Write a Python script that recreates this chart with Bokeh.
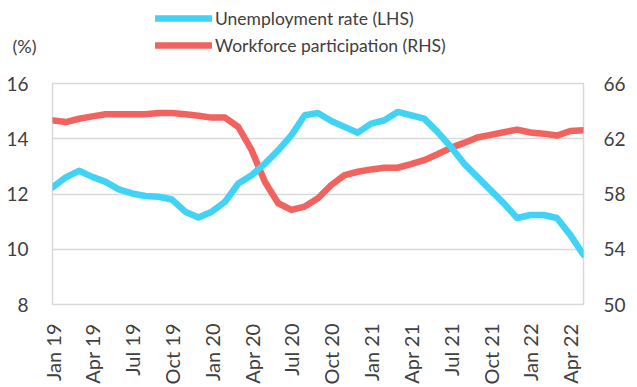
import math
from bokeh.plotting import figure
from bokeh.layouts import column, row
from bokeh.models import (LinearAxis, Range1d, FixedTicker, Legend, LegendItem, Label)
from bokeh.embed import file_html
from bokeh.resources import INLINE

months = ["Jan 19", "Feb 19", "Mar 19", "Apr 19", "May 19", "Jun 19", "Jul 19", "Aug 19", "Sep 19",
          "Oct 19", "Nov 19", "Dec 19", "Jan 20", "Feb 20", "Mar 20", "Apr 20", "May 20", "Jun 20",
          "Jul 20", "Aug 20", "Sep 20", "Oct 20", "Nov 20", "Dec 20", "Jan 21", "Feb 21", "Mar 21",
          "Apr 21", "May 21", "Jun 21", "Jul 21", "Aug 21", "Sep 21", "Oct 21", "Nov 21", "Dec 21",
          "Jan 22", "Feb 22", "Mar 22", "Apr 22", "May 22"]

unemployment = [12.24, 12.6, 12.84, 12.62, 12.44, 12.17, 12.02, 11.93, 11.9, 11.8, 11.36, 11.15,
                11.36, 11.72, 12.38, 12.68, 13.1, 13.58, 14.13, 14.85, 14.93, 14.64, 14.43, 14.22,
                14.55, 14.67, 14.97, 14.85, 14.73, 14.25, 13.71, 13.1, 12.62, 12.14, 11.66, 11.13,
                11.24, 11.24, 11.13, 10.52, 9.8]

participation = [63.33, 63.21, 63.45, 63.62, 63.77, 63.77, 63.77, 63.77, 63.86, 63.86, 63.77, 63.67,
                 63.53, 63.53, 62.85, 61.17, 58.89, 57.33, 56.85, 57.09, 57.69, 58.65, 59.37, 59.61,
                 59.78, 59.9, 59.9, 60.16, 60.45, 60.88, 61.34, 61.7, 62.09, 62.28, 62.47, 62.66,
                 62.45, 62.37, 62.23, 62.56, 62.61]

left_ticks = [8, 10, 12, 14, 16]
right_ticks = [50, 54, 58, 62, 66]
label_months = [m for m in months if m.startswith(("Jan", "Apr", "Jul", "Oct"))]

series_names = ["Unemployment rate (LHS)", "Workforce participation (RHS)"]
unit_label = "(%)"
blue = "#40d3f5"
red = "#f2625f"
text_color = "#404040"
grid_color = "#d9d9d9"
FONT = "Lato"
LINE_W = 6.5

x = list(range(len(months)))

# ---- header strip (legend + unit label) ----
TOP_H = 68
top = figure(width=637, height=TOP_H, output_backend="svg", toolbar_location=None,
             x_range=Range1d(0, 637), y_range=Range1d(0, TOP_H),
             x_axis_type=None, y_axis_type=None, min_border=0)
top.outline_line_color = None
top.grid.grid_line_color = None
top.border_fill_color = "white"
nan = float("nan")
sw_blue = top.line([nan], [nan], line_color=blue, line_width=LINE_W, line_cap="round")
sw_red = top.line([nan], [nan], line_color=red, line_width=LINE_W, line_cap="round")

legend = Legend(items=[LegendItem(label=series_names[0], renderers=[sw_blue]),
                       LegendItem(label=series_names[1], renderers=[sw_red])],
                location=(155, TOP_H - 56), orientation="vertical",
                glyph_width=57, glyph_height=22, label_height=22, spacing=5,
                padding=0, margin=0, label_standoff=3,
                label_text_font=FONT, label_text_font_size="17.5px", label_text_color=text_color,
                border_line_alpha=0, background_fill_alpha=0)
top.add_layout(legend, "center")
top.add_layout(Label(x=12, y=TOP_H - 45, x_units="screen", y_units="screen", text=unit_label,
                     text_font=FONT, text_font_size="18px", text_color=text_color,
                     text_baseline="middle"))

# ---- main chart ----
p = figure(width=637, height=387 - TOP_H, output_backend="svg", toolbar_location=None,
           x_range=Range1d(0, len(months) - 1), y_range=Range1d(left_ticks[0], left_ticks[-1]),
           min_border_left=52, min_border_right=54, min_border_top=83 - TOP_H,
           min_border_bottom=82)
p.extra_y_ranges = {"rhs": Range1d(right_ticks[0], right_ticks[-1])}

p.outline_line_color = grid_color
p.outline_line_width = 1.5
p.background_fill_color = "white"
p.border_fill_color = "white"

p.xgrid.grid_line_color = None
p.ygrid.grid_line_color = grid_color
p.ygrid.grid_line_width = 1.5
p.ygrid.ticker = FixedTicker(ticks=left_ticks)

xa = p.xaxis[0]
xa.ticker = FixedTicker(ticks=[months.index(m) for m in label_months])
xa.major_label_overrides = {months.index(m): m for m in label_months}
xa.major_label_orientation = math.pi / 2

ya = p.yaxis[0]
ya.ticker = FixedTicker(ticks=left_ticks)

ra = LinearAxis(y_range_name="rhs", ticker=FixedTicker(ticks=right_ticks))
p.add_layout(ra, "right")

for ax in [xa, ya, ra]:
    ax.axis_line_color = None
    ax.major_tick_line_color = None
    ax.minor_tick_line_color = None
    ax.major_label_text_font = FONT
    ax.major_label_text_font_size = "19px"
    ax.major_label_text_color = text_color
xa.major_label_text_font_size = "20px"
xa.major_label_standoff = 13
ya.major_label_standoff = 18
ra.major_label_standoff = 14

p.line(x, participation, y_range_name="rhs", line_color=red, line_width=LINE_W,
       line_join="round", line_cap="round")
p.line(x, unemployment, line_color=blue, line_width=LINE_W,
       line_join="round", line_cap="round")

layout = column(row(top), p, spacing=0)
open("out.html", "w").write(file_html(layout, INLINE))
